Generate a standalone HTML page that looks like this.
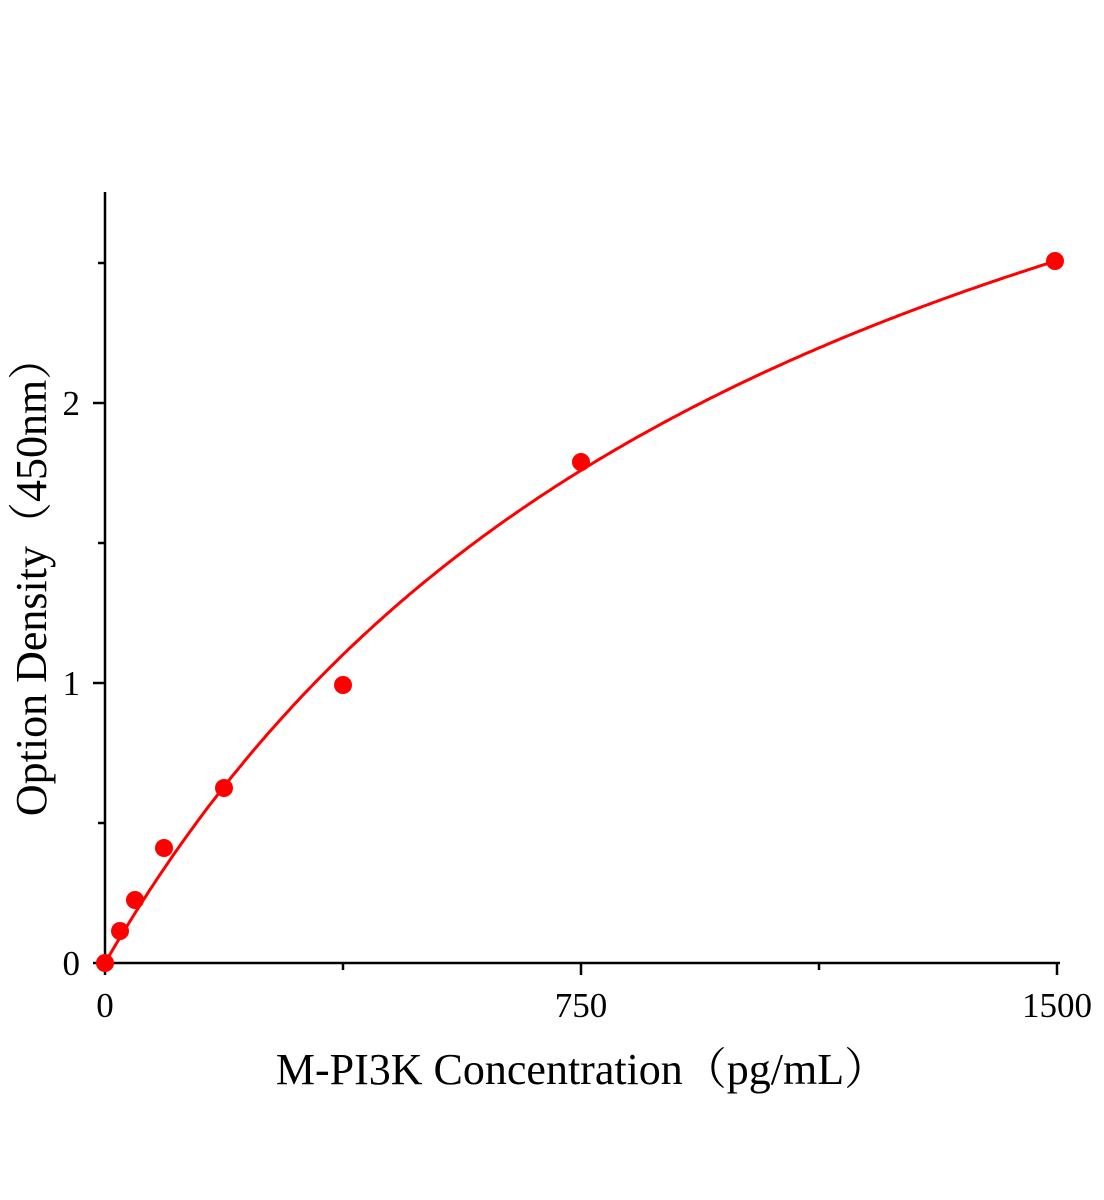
<!DOCTYPE html>
<html><head><style>body{margin:0;background:#fff}svg{display:block}</style></head>
<body>
<svg id="s" width="1104" height="1200" xmlns="http://www.w3.org/2000/svg" font-family="'Liberation Serif','Noto Serif CJK SC',serif">
<rect width="1104" height="1200" fill="#fff"/>
<g stroke="#000" stroke-width="2.5" fill="none">
<line x1="105" y1="192" x2="105" y2="964"/>
<line x1="104" y1="963" x2="1060" y2="963"/>
<line x1="105" y1="963" x2="105" y2="975"/>
<line x1="581" y1="963" x2="581" y2="975"/>
<line x1="1057" y1="963" x2="1057" y2="975"/>
<line x1="343" y1="963" x2="343" y2="970"/>
<line x1="819" y1="963" x2="819" y2="970"/>
<line x1="93" y1="963" x2="105" y2="963"/>
<line x1="93" y1="683" x2="105" y2="683"/>
<line x1="93" y1="403" x2="105" y2="403"/>
<line x1="98" y1="823" x2="105" y2="823"/>
<line x1="98" y1="543" x2="105" y2="543"/>
<line x1="98" y1="263" x2="105" y2="263"/>
</g>
<g font-size="35" fill="#000">
<text x="105" y="1017" text-anchor="middle">0</text>
<text x="581" y="1017" text-anchor="middle">750</text>
<text x="1057" y="1017" text-anchor="middle">1500</text>
<text x="80" y="975" text-anchor="end">0</text>
<text x="80" y="695" text-anchor="end">1</text>
<text x="80" y="415" text-anchor="end">2</text>
</g>
<text x="582" y="1084" text-anchor="middle" font-size="44">M-PI3K Concentration（pg/mL）</text>
<text transform="translate(46,576) rotate(-90)" text-anchor="middle" font-size="44">Option Density（450nm）</text>
<path id="c" fill="none" stroke="#f00" stroke-width="3"/>
<g fill="#f00">
<circle cx="105" cy="963" r="9"/>
<circle cx="120" cy="931" r="9"/>
<circle cx="135" cy="900" r="9"/>
<circle cx="164" cy="848" r="9"/>
<circle cx="224" cy="788" r="9"/>
<circle cx="343" cy="685" r="9"/>
<circle cx="581" cy="462" r="9"/>
<circle cx="1055" cy="261" r="9"/>
</g>
<script>
var d="";for(var i=0;i<=300;i++){var x=i*5;var y=4.37*x/(1113+x);var px=105+x*952/1500,py=963-y*280;d+=(i?"L":"M")+px.toFixed(1)+","+py.toFixed(1);}
document.getElementById("c").setAttribute("d",d);
</script>
</svg>
</body></html>
